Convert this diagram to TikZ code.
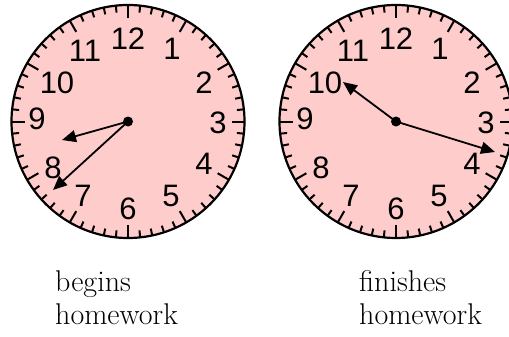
\documentclass[tikz,border=0pt]{standalone}
\usepackage{fontspec}
\newfontfamily\digitfont{Liberation Sans}
\usetikzlibrary{arrows.meta,calc}
\definecolor{facepink}{HTML}{FFCCCC}
\tikzset{
  face/.style={draw=black,fill=facepink,line width=2.2pt},
  tick/.style={line width=2pt,line cap=butt},
  numeral/.style={font=\digitfont\fontsize{31}{31}\selectfont,inner sep=0pt,anchor=center},
  hand/.style={line width=1.8pt,-{Triangle[length=14pt,width=12pt]}},
  hub/.style={circle,fill=black,inner sep=0pt,minimum size=10pt},
  caption/.style={font=\fontsize{30}{33}\selectfont,align=left,anchor=base west,inner sep=0pt}
}
\newcommand{\clockface}[2]{%
  \coordinate (#1) at #2;
  \draw[face] (#1) circle[radius=116.5pt];
  \foreach \m in {0,...,59}{
    \pgfmathsetmacro{\len}{mod(\m,5)==0 ? 13 : 7}
    \draw[tick] ($(#1)+({116.5*sin(6*\m)},{-116.5*cos(6*\m)})$) -- ($(#1)+({(116.5-\len)*sin(6*\m)},{-(116.5-\len)*cos(6*\m)})$);
  }
  \foreach \t/\dx/\dy in {12/0/-83,1/44/-73,2/76/-39,3/90/1,4/76/42,5/43/74,6/0/87,7/-45/74,8/-75/46,9/-91/-3,10/-71/-39,11/-43/-71}{
    \node[numeral] (#1n\t) at ($(#1)+(\dx,\dy)$) {\t};
  }
}
\begin{document}
\begin{tikzpicture}[x=1pt,y=-1pt]
\useasboundingbox (0,0) rectangle (509,337);
% left clock
\clockface{L}{(128,121.5)}
\coordinate (Lh) at (62,140);
\coordinate (Lm) at (53,190);
\draw[hand] (L) -- (Lh);
\draw[hand] (L) -- (Lm);
\node[hub] (Lhub) at (L) {};
% right clock
\clockface{R}{(396,121.5)}
\coordinate (Rh) at (343,82);
\coordinate (Rm) at (495,152);
\draw[hand] (R) -- (Rh);
\draw[hand] (R) -- (Rm);
\node[hub] (Rhub) at (R) {};
% captions
\node[caption] (capL) at (55,324) {begins\\homework};
\node[caption] (capR) at (359,324) {finishes\\homework};
\end{tikzpicture}
\end{document}
